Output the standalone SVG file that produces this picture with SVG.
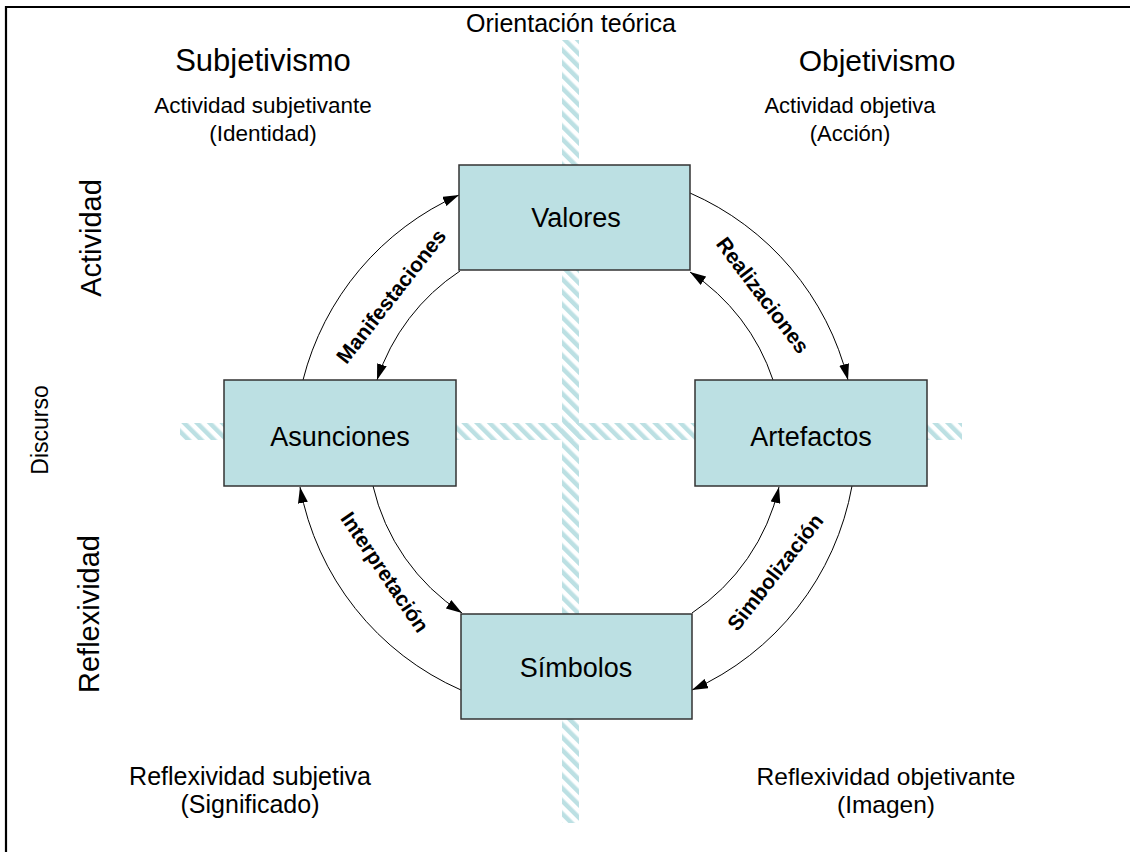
<svg xmlns="http://www.w3.org/2000/svg" width="1130" height="852" viewBox="0 0 1130 852">
  <style>
    .lbl { font-family: "Liberation Sans", Arial, sans-serif; fill: #000; text-anchor: middle; }
    .box { fill: #BCE0E3; stroke: #333; stroke-width: 1.5; }
    .arc { fill: none; stroke: #000; stroke-width: 1; marker-end: url(#arrow); }
    .arcl { font-family: "Liberation Sans", Arial, sans-serif; font-weight: bold; font-size: 21px; text-anchor: middle; dominant-baseline: central; }
    .node { font-size: 27px; dominant-baseline: central; }
  </style>
  <defs>
    <pattern id="hatch" patternUnits="userSpaceOnUse" width="9" height="9" patternTransform="rotate(-45)">
      <rect x="0" y="0" width="4.5" height="9" fill="#BCE0E3"/>
    </pattern>
    <marker id="arrow" markerUnits="userSpaceOnUse" markerWidth="16" markerHeight="10" refX="16" refY="5" orient="auto">
      <path d="M0,0 L16,5 L0,10 z" fill="#000"/>
    </marker>
  </defs>

  <rect width="1130" height="852" fill="#fff"/>

  <!-- frame -->
  <path d="M6 852 L6 7 L1130 7" fill="none" stroke="#000" stroke-width="2.2"/>

  <!-- hatched axes -->
  <g id="axes">
    <rect x="562" y="40" width="17" height="783" fill="url(#hatch)"/>
    <rect x="180" y="423" width="782" height="17" fill="url(#hatch)"/>
  </g>

  <!-- quadrant and axis captions -->
  <g id="captions">
    <text class="lbl" x="571" y="32" font-size="25">Orientación teórica</text>
    <text class="lbl" x="263" y="71" font-size="31">Subjetivismo</text>
    <text class="lbl" x="263" y="113" font-size="22.5">Actividad subjetivante</text>
    <text class="lbl" x="263" y="141" font-size="22.5">(Identidad)</text>
    <text class="lbl" x="877" y="71" font-size="30">Objetivismo</text>
    <text class="lbl" x="850" y="113" font-size="22">Actividad objetiva</text>
    <text class="lbl" x="850" y="141" font-size="22">(Acción)</text>
    <text class="lbl" x="250" y="785" font-size="25">Reflexividad subjetiva</text>
    <text class="lbl" x="250" y="813" font-size="25">(Significado)</text>
    <text class="lbl" x="886" y="785" font-size="24.5">Reflexividad objetivante</text>
    <text class="lbl" x="886" y="813" font-size="24.5">(Imagen)</text>
    <text class="lbl" font-size="29" dominant-baseline="central" transform="translate(91 238) rotate(-90)">Actividad</text>
    <text class="lbl" font-size="23" dominant-baseline="central" transform="translate(40 430) rotate(-90)">Discurso</text>
    <text class="lbl" font-size="29" dominant-baseline="central" transform="translate(89 614) rotate(-90)">Reflexividad</text>
  </g>

  <!-- connectors -->
  <g id="connectors">
    <path class="arc" d="M303 380 A277 277 0 0 1 459 195"/>
    <path class="arc" d="M460 271 A207 207 0 0 0 377 380"/>
    <path class="arc" d="M690 193 A277 277 0 0 1 848 380"/>
    <path class="arc" d="M773 380 A207 207 0 0 0 690 272"/>
    <path class="arc" d="M852 486 A277 277 0 0 1 692 690"/>
    <path class="arc" d="M692 613 A207 207 0 0 0 779 487"/>
    <path class="arc" d="M461 690 A277 277 0 0 1 300 487"/>
    <path class="arc" d="M373 486 A207 207 0 0 0 462 613"/>
    <text class="arcl" transform="translate(391 296) rotate(-52)">Manifestaciones</text>
    <text class="arcl" transform="translate(763 295) rotate(53)">Realizaciones</text>
    <text class="arcl" transform="translate(385 572) rotate(56)">Interpretación</text>
    <text class="arcl" transform="translate(775 572) rotate(-52)">Simbolización</text>
  </g>

  <!-- nodes -->
  <g id="valores">
    <rect class="box" x="459" y="165" width="231" height="105"/>
    <text class="lbl node" x="576" y="218">Valores</text>
  </g>
  <g id="asunciones">
    <rect class="box" x="224" y="380" width="232" height="106"/>
    <text class="lbl node" x="340" y="437">Asunciones</text>
  </g>
  <g id="artefactos">
    <rect class="box" x="695" y="380" width="232" height="106"/>
    <text class="lbl node" x="811" y="437">Artefactos</text>
  </g>
  <g id="simbolos">
    <rect class="box" x="461" y="614" width="231" height="105"/>
    <text class="lbl node" x="576" y="668">Símbolos</text>
  </g>
</svg>
